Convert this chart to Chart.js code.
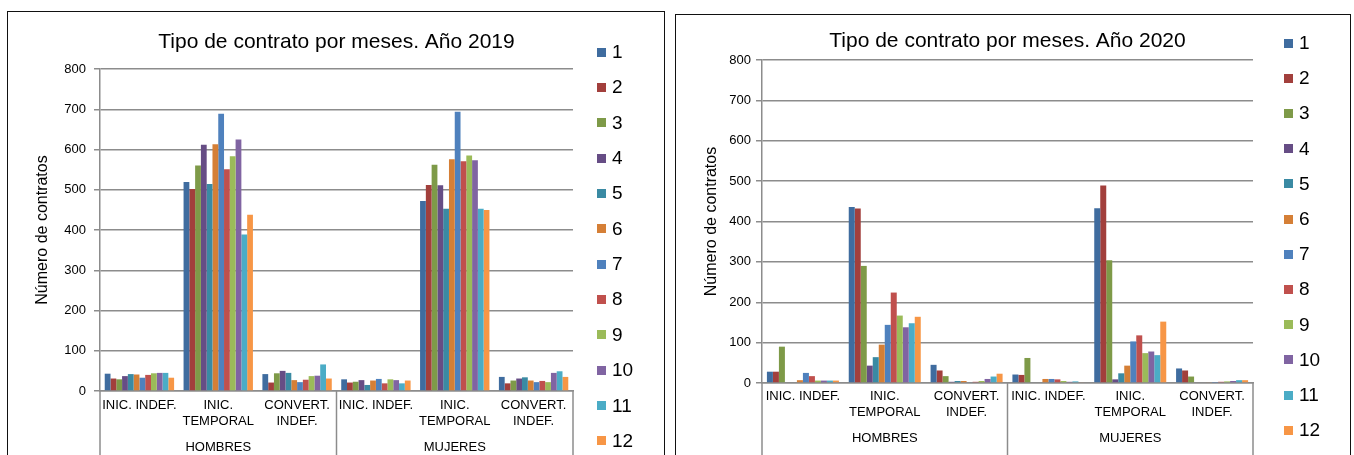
<!DOCTYPE html>
<html>
<head>
<meta charset="utf-8">
<script src="https://cdn.jsdelivr.net/npm/chart.js@4.4.1/dist/chart.umd.min.js"></script>
<style>
  html, body { margin: 0; padding: 0; background: #fff; overflow: hidden; }
  body { width: 1354px; height: 455px; position: relative; font-family: "Liberation Sans", Arial, sans-serif; }
  .box { position: absolute; border: 1.5px solid #111; box-sizing: border-box; }
  .wrap { position: absolute; }
  .legend { position: absolute; }
  .legend .item { position: absolute; left: 0; height: 20px; display: flex; align-items: center; white-space: nowrap; }
  .legend .sw { width: 9px; height: 9px; display: inline-block; }
  .legend .lbl { font-size: 19px; color: #000; margin-left: 6px; line-height: 20px; }
</style>
</head>
<body>
<div class="box" style="left:7px; top:11px; width:658px; height:460px;"></div>
<div class="box" style="left:675px; top:14px; width:676px; height:460px;"></div>
<div class="wrap" style="left:9px; top:13px; width:654px; height:442px;"><canvas id="chart2019"></canvas></div>
<div class="wrap" style="left:677px; top:16px; width:672px; height:439px;"><canvas id="chart2020"></canvas></div>
<div class="legend" id="legend2019" style="left:597px; top:0;"></div>
<div class="legend" id="legend2020" style="left:1284px; top:0;"></div>

<script>
const seriesLabels = ["1", "2", "3", "4", "5", "6", "7", "8", "9", "10", "11", "12"];
const seriesColors = [
  "#3F6C9F", "#A23F3C", "#7E9A48", "#664D85", "#3A8AA3", "#D57F36",
  "#4F81BD", "#C0504D", "#9BBB59", "#8064A2", "#4BACC6", "#F79646",
];
const categoryLabels = [
  ["INIC. INDEF."], ["INIC.", "TEMPORAL"], ["CONVERT.", "INDEF."],
  ["INIC. INDEF."], ["INIC.", "TEMPORAL"], ["CONVERT.", "INDEF."],
];
const groupLabels = ["HOMBRES", "MUJERES"];
const yTicks = [0, 100, 200, 300, 400, 500, 600, 700, 800];

// one row per month: H indef, H temporal, H convert, M indef, M temporal, M convert
const values2019 = [
  [43, 519, 42, 29, 472, 35],
  [31, 502, 21, 21, 512, 19],
  [29, 560, 44, 23, 562, 26],
  [37, 612, 50, 27, 511, 31],
  [42, 514, 45, 15, 453, 34],
  [41, 613, 27, 26, 576, 26],
  [33, 689, 22, 30, 694, 22],
  [40, 551, 28, 19, 571, 25],
  [44, 583, 37, 29, 585, 22],
  [45, 625, 38, 27, 573, 45],
  [45, 389, 66, 19, 453, 49],
  [33, 438, 31, 26, 450, 35],
];
const values2020 = [
  [28, 436, 45, 21, 433, 36],
  [28, 432, 31, 20, 489, 31],
  [90, 290, 17, 62, 304, 16],
  [0, 43, 3, 0, 9, 0],
  [0, 64, 5, 0, 24, 0],
  [7, 95, 5, 10, 43, 2],
  [25, 144, 2, 10, 103, 1],
  [17, 224, 3, 9, 118, 3],
  [6, 167, 5, 5, 74, 4],
  [6, 138, 10, 3, 78, 5],
  [6, 148, 16, 4, 69, 7],
  [6, 164, 23, 2, 152, 7],
];

const FONT = "'Liberation Sans', Arial, sans-serif";
const gridColor = "#8c8c8c";

const groupAxis = {
  id: "groupAxis",
  afterDraw(chart, args, opts) {
    const { ctx, chartArea, scales: { x } } = chart;
    const mid = (x.getPixelForValue(2) + x.getPixelForValue(3)) / 2;
    const lines = [chartArea.left, mid, chartArea.right];
    ctx.save();
    ctx.strokeStyle = gridColor;
    ctx.lineWidth = 1.5;
    lines.forEach((px) => {
      ctx.beginPath();
      ctx.moveTo(px, chartArea.bottom);
      ctx.lineTo(px, chart.height);
      ctx.stroke();
    });
    ctx.fillStyle = "#000";
    ctx.font = `13px ${FONT}`;
    ctx.textAlign = "center";
    ctx.textBaseline = "middle";
    groupLabels.forEach((g, i) => {
      ctx.fillText(g, (lines[i] + lines[i + 1]) / 2, chartArea.bottom + opts.offset);
    });
    ctx.restore();
  },
};

function renderChart(canvas, title, values, cfg) {
  return new Chart(canvas, {
    type: "bar",
    data: {
      labels: categoryLabels,
      datasets: seriesLabels.map((label, i) => ({
        label,
        data: values[i],
        backgroundColor: seriesColors[i],
        borderWidth: 0,
        categoryPercentage: 0.88,
        barPercentage: 1.0,
      })),
    },
    options: {
      responsive: true,
      maintainAspectRatio: false,
      animation: false,
      layout: { padding: { left: 0, right: cfg.padRight, top: 0, bottom: 0 } },
      plugins: {
        legend: { display: false },
        tooltip: { enabled: false },
        title: {
          display: true,
          text: title,
          fullSize: false,
          color: "#000",
          font: { family: FONT, size: 21, weight: "normal" },
          padding: { top: cfg.titleTop, bottom: cfg.titleBottom },
        },
        groupAxis: { offset: cfg.groupOffset },
      },
      scales: {
        x: {
          ticks: {
            color: "#000",
            font: { family: FONT, size: 13 },
            autoSkip: false,
            maxRotation: 0,
            padding: cfg.xPad,
          },
          grid: { display: false, drawTicks: false },
          border: { color: gridColor, width: 1.5 },
          afterFit: (s) => { s.height = cfg.xHeight; },
        },
        y: {
          min: 0,
          max: 800,
          afterBuildTicks: (s) => { s.ticks = yTicks.map((v) => ({ value: v })); },
          ticks: {
            color: "#000",
            font: { family: FONT, size: 13 },
            padding: cfg.yPad,
          },
          grid: { color: gridColor, lineWidth: 1.5, tickLength: 6 },
          border: { display: true, color: gridColor, width: 1.5 },
          title: {
            display: true,
            text: "Número de contratos",
            color: "#000",
            font: { family: FONT, size: 16 },
            padding: { top: cfg.yTitlePad, bottom: 0 },
          },
          afterFit: (s) => { s.width = cfg.yWidth; },
        },
      },
    },
    plugins: [groupAxis],
  });
}

function renderLegend(el, y0, step) {
  seriesLabels.forEach((label, i) => {
    const item = document.createElement("div");
    item.className = "item";
    item.style.top = `${y0 + i * step - 10}px`;
    item.innerHTML = `<span class="sw" style="background:${seriesColors[i]}"></span><span class="lbl">${label}</span>`;
    el.appendChild(item);
  });
}

renderChart(document.getElementById("chart2019"), "Tipo de contrato por meses. Año 2019", values2019, {
  padRight: 90, titleTop: 16.4, titleBottom: 14.4, xHeight: 64, yWidth: 91,
  xPad: 7, yPad: 8, yTitlePad: 24.4, groupOffset: 56,
});
renderChart(document.getElementById("chart2020"), "Tipo de contrato por meses. Año 2020", values2020, {
  padRight: 96, titleTop: 12.4, titleBottom: 6.4, xHeight: 72, yWidth: 85,
  xPad: 6, yPad: 5, yTitlePad: 25.4, groupOffset: 55,
});
renderLegend(document.getElementById("legend2019"), 52, 35.35);
renderLegend(document.getElementById("legend2020"), 43, 35.2);
</script>
</body>
</html>
